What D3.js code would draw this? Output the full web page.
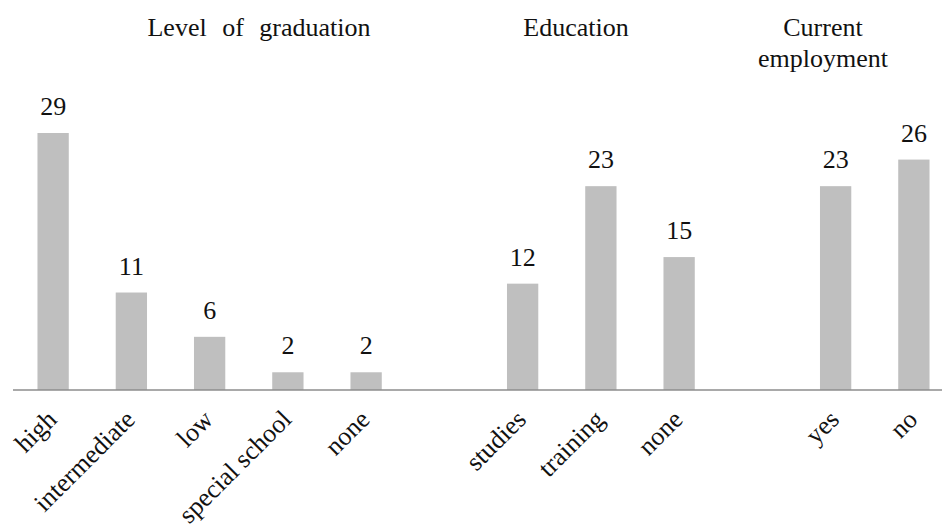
<!DOCTYPE html>
<html>
<head>
<meta charset="utf-8">
<script src="https://cdn.jsdelivr.net/npm/d3@7"></script>
<style>
  body { margin: 0; background: #fff; }
  text { font-family: "Liberation Serif", "Times New Roman", serif; fill: #111; }
</style>
</head>
<body>
<script>
// data
var groupTitles = [["Level of graduation"], ["Education"], ["Current", "employment"]];
var levelCats = ["high", "intermediate", "low", "special school", "none"];
var levelVals = [29, 11, 6, 2, 2];
var eduCats = ["studies", "training", "none"];
var eduVals = [12, 23, 15];
var jobCats = ["yes", "no"];
var jobVals = [23, 26];

var W = 942, H = 529;

// build slots, with one empty slot between groups
var groups = [[levelCats, levelVals], [eduCats, eduVals], [jobCats, jobVals]];
var slots = [];
groups.forEach(function(g, gi) {
  g[0].forEach(function(c, i) {
    slots.push({key: gi + "-" + c, label: c, value: g[1][i]});
  });
  if (gi < groups.length - 1) slots.push({key: "gap" + gi, label: null, value: null});
});
var bars = slots.filter(function(d) { return d.value !== null; });

var svg = d3.select("body").append("svg")
  .attr("width", W)
  .attr("height", H);

var x = d3.scaleBand()
  .domain(slots.map(function(d) { return d.key; }))
  .range([14, 953])
  .paddingInner(0.6)
  .paddingOuter(0.3);

var y = d3.scaleLinear()
  .domain([0, 29])
  .range([390, 133]);

svg.selectAll("rect.bar")
  .data(bars)
  .enter().append("rect")
    .attr("class", "bar")
    .attr("x", function(d) { return x(d.key); })
    .attr("width", x.bandwidth())
    .attr("y", function(d) { return y(d.value); })
    .attr("height", function(d) { return y(0) - y(d.value); })
    .style("fill", "#bfbfbf");

// baseline
svg.append("line")
  .attr("x1", 13).attr("x2", W)
  .attr("y1", y(0)).attr("y2", y(0))
  .style("stroke", "#8c8c8c")
  .style("stroke-width", 1.5);

// value labels
svg.selectAll("text.val")
  .data(bars)
  .enter().append("text")
    .attr("class", "val")
    .attr("x", function(d) { return x(d.key) + x.bandwidth() / 2; })
    .attr("y", function(d) { return y(d.value) - 18; })
    .attr("text-anchor", "middle")
    .style("font-size", "26px")
    .text(function(d) { return d.value; });

// category labels, turned 45 degrees
svg.selectAll("text.cat")
  .data(bars)
  .enter().append("text")
    .attr("class", "cat")
    .attr("text-anchor", "end")
    .attr("transform", function(d) {
      var cx = x(d.key) + x.bandwidth() / 2;
      return "translate(" + (cx + 5) + "," + (y(0) + 31) + ") rotate(-45)";
    })
    .style("font-size", "26px")
    .text(function(d) { return d.label; });

// group titles
var titleX = [259, 576, 823];
groupTitles.forEach(function(lines, i) {
  var t = svg.append("text")
    .attr("x", titleX[i])
    .attr("y", 36)
    .attr("text-anchor", "middle")
    .style("font-size", "26px")
    .style("word-spacing", i === 0 ? "9px" : "0px");
  lines.forEach(function(l, j) {
    t.append("tspan")
      .attr("x", titleX[i])
      .attr("dy", j === 0 ? 0 : 31)
      .text(l);
  });
});
</script>
</body>
</html>
